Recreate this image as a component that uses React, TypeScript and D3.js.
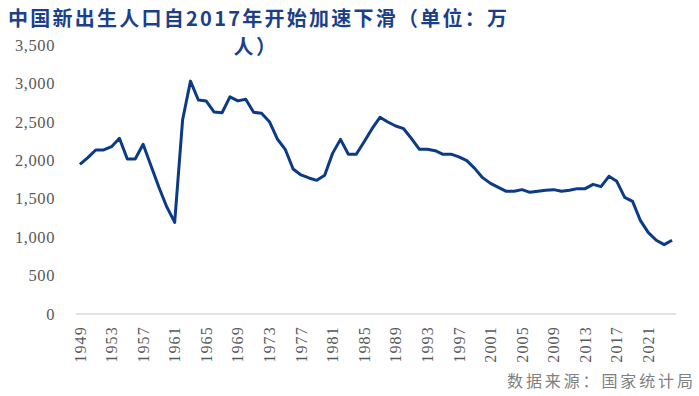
import React from "react";
import * as d3 from "d3";

const years: number[] = d3.range(1949, 2025);
const births: number[] = [
  1948, 2034, 2134, 2134, 2177, 2286, 2016, 2016, 2208, 1930,
  1650, 1393, 1193, 2524, 3030, 2784, 2771, 2628, 2619, 2825,
  2773, 2793, 2624, 2611, 2502, 2277, 2143, 1887, 1809, 1770,
  1739, 1804, 2090, 2272, 2078, 2078, 2242, 2411, 2559, 2498,
  2446, 2411, 2281, 2143, 2143, 2125, 2078, 2080, 2045, 1995,
  1895, 1774, 1700, 1648, 1596, 1596, 1618, 1583, 1596, 1609,
  1618, 1596, 1609, 1631, 1631, 1687, 1657, 1791, 1726, 1518,
  1466, 1214, 1058, 959, 902, 959,
];
const yTicks: number[] = [0, 500, 1000, 1500, 2000, 2500, 3000, 3500];
const xTickYears: number[] = d3.range(1949, 2025, 4);
const titleLine1 = "中国新出生人口自2017年开始加速下滑（单位：万";
const titleLine2 = "人）";
const sourceText = "数据来源：国家统计局";

export default function App() {
  const W = 699, H = 396;
  const left = 76, right = 676, top = 45, bottom = 314;
  const x = d3.scaleBand<number>().domain(years).range([left, right]);
  const y = d3.scaleLinear().domain([0, 3500]).range([bottom, top]);
  const cx = (yr: number) => (x(yr) as number) + x.bandwidth() / 2;
  const line = d3.line<number>()
    .x((_, i) => cx(years[i]))
    .y((d) => y(d));
  const serif = "'Liberation Serif', 'DejaVu Serif', serif";
  const cjk = "'Noto Sans CJK SC', sans-serif";
  return (
    <svg width={W} height={H} style={{ position: "absolute", left: 0, top: 0, background: "#fff" }}>
      <text x={8} y={26} fontFamily={cjk} fontWeight={700} fontSize={20} fill="#1C3F8A" textLength={499} lengthAdjust="spacing">
        {titleLine1}
      </text>
      <text x={256} y={54} textAnchor="middle" fontFamily={cjk} fontWeight={700} fontSize={20} fill="#1C3F8A" letterSpacing={2.4}>
        {titleLine2}
      </text>
      {yTicks.map((t) => (
        <text key={t} x={55} y={y(t)} dy="0.35em" textAnchor="end" fontFamily={serif} fontSize={16.5} fill="#595959" letterSpacing={0.6}>
          {d3.format(",")(t)}
        </text>
      ))}
      <line x1={left} x2={right} y1={bottom} y2={bottom} stroke="#D9D9D9" strokeWidth={1.5} />
      {xTickYears.map((yr) => (
        <text key={yr} transform={`translate(${cx(yr)},326) rotate(-90)`} dy="0.35em" textAnchor="end" fontFamily={serif} fontSize={16} fill="#595959" letterSpacing={1.2}>
          {yr}
        </text>
      ))}
      <path d={line(births) as string} fill="none" stroke="#0B3A86" strokeWidth={3} strokeLinejoin="round" />
      <text x={507} y={387} fontFamily={cjk} fontSize={16} fill="#808080" textLength={186} lengthAdjust="spacing">
        {sourceText}
      </text>
    </svg>
  );
}
